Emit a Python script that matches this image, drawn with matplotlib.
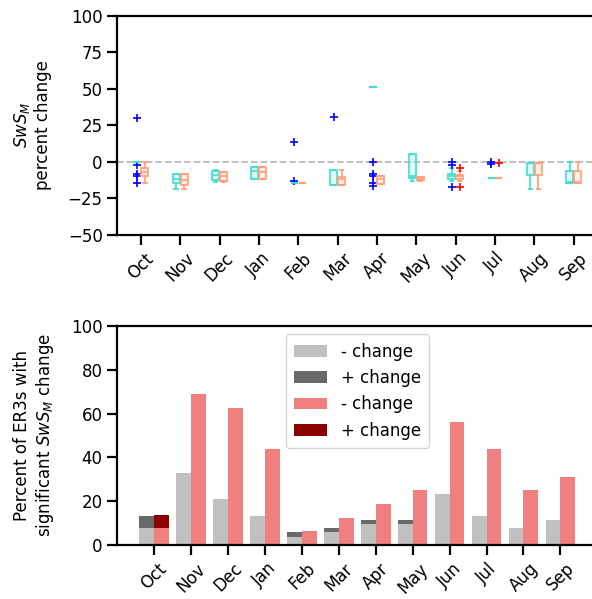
import matplotlib
matplotlib.use("Agg")
import matplotlib.pyplot as plt
from matplotlib.colors import to_rgba
import numpy as np

months = ['Oct', 'Nov', 'Dec', 'Jan', 'Feb', 'Mar', 'Apr', 'May', 'Jun', 'Jul', 'Aug', 'Sep']

# box stats, turquoise series
t_q1 = [-0.3, -14.5, -12.7, -11.8, -14.8, -15.7, 51.0, -11.1, -11.8, -11.1, -9.3, -14.6]
t_med = [-0.3, -12.0, -9.3, -6.6, -14.8, -15.7, 51.0, -10.0, -10.0, -11.1, -1.2, -13.8]
t_q3 = [-0.3, -8.2, -6.6, -3.9, -14.8, -5.9, 51.0, 5.5, -8.2, -11.1, -0.7, -6.6]
t_lo = [-0.3, -18.6, -13.9, -11.8, -14.8, -15.7, 51.0, -13.4, -13.4, -11.1, -18.4, -14.6]
t_hi = [-0.3, -8.2, -6.0, -3.9, -14.8, -5.9, 51.0, 5.5, -4.3, -11.1, -0.7, -0.3]
t_fliers = [[30, -2.5, -8.5, -9.8, -14.5], [], [], [], [13.5, -13.5], [30.3],
            [0, -8.5, -9.5, -14.5, -16.8], [], [0, -2.5, -17.3], [-0.3, -1.5], [], []]

# box stats, salmon series
s_q1 = [-9.6, -15.7, -13.2, -11.8, -14.8, -15.7, -15.0, -12.7, -11.8, -11.1, -9.3, -14.6]
s_med = [-7.0, -12.3, -10.0, -7.0, -14.8, -12.0, -12.0, -11.5, -10.0, -11.1, -1.2, -13.8]
s_q3 = [-4.3, -8.2, -7.0, -3.9, -14.8, -10.5, -9.6, -10.7, -8.9, -11.1, -0.7, -6.6]
s_lo = [-14.5, -18.6, -14.1, -11.8, -14.8, -15.7, -15.0, -13.4, -13.4, -11.1, -18.4, -14.6]
s_hi = [-0.5, -8.2, -7.0, -3.9, -14.8, -5.9, -9.6, -10.7, -6.5, -11.1, -0.7, -0.3]
s_fliers = [[], [], [], [], [], [], [], [], [-4.3, -17.3], [-0.8], [], []]

# percent of ER3s with significant change
gray_neg = [7.69, 32.7, 21.15, 13.46, 3.85, 5.77, 9.6, 9.6, 23.08, 13.46, 7.69, 11.54]
gray_pos = [5.77, 0, 0, 0, 1.92, 1.92, 1.92, 1.92, 0, 0, 0, 0]
red_neg = [7.7, 68.75, 62.5, 43.75, 6.25, 12.5, 18.75, 25.0, 56.25, 43.75, 25.0, 31.25]
red_pos = [6.2, 0, 0, 0, 0, 0, 0, 0, 0, 0, 0, 0]

plt.rcParams['font.family'] = 'DejaVu Sans'
plt.rcParams['font.size'] = 12

fig = plt.figure(figsize=(5.92, 5.99), dpi=100)
ax1 = fig.add_axes([0.198, 0.608, 0.811, 0.366])
ax2 = fig.add_axes([0.198, 0.090, 0.811, 0.366])

x = np.arange(len(months))


def make_stats(q1, med, q3, lo, hi, fl):
    return [dict(q1=a, med=b, q3=c, whislo=d, whishi=e, fliers=f)
            for a, b, c, d, e, f in zip(q1, med, q3, lo, hi, fl)]


def draw_boxes(ax, stats, pos, col, fcol):
    lw = 1.5
    ax.bxp(stats, positions=pos, widths=0.18, patch_artist=True,
           boxprops=dict(facecolor=to_rgba(col, 0.15), edgecolor=to_rgba(col, 0.85), linewidth=lw),
           medianprops=dict(color=to_rgba(col, 0.85), linewidth=lw),
           whiskerprops=dict(color=to_rgba(col, 0.85), linewidth=lw),
           capprops=dict(color=to_rgba(col, 0.85), linewidth=lw),
           flierprops=dict(marker='+', markeredgecolor=fcol, markersize=6, markeredgewidth=1.2),
           capwidths=0.09, manage_ticks=False)


ax1.axhline(0, color='#bbbbbb', linestyle='--', linewidth=1.3, zorder=0)
draw_boxes(ax1, make_stats(t_q1, t_med, t_q3, t_lo, t_hi, t_fliers), x - 0.1, '#40E0D0', 'blue')
draw_boxes(ax1, make_stats(s_q1, s_med, s_q3, s_lo, s_hi, s_fliers), x + 0.1, '#FFA07A', 'red')
ax1.set_xlim(-0.6, 11.6)
ax1.set_ylim(-50, 100)
ax1.set_yticks([-50, -25, 0, 25, 50, 75, 100])
ax1.set_xticks(x)
ax1.set_xticklabels(months, rotation=45)
ax1.set_ylabel('$SwS_M$\npercent change', labelpad=11)

bw = 0.4
ax2.bar(x - 0.2, gray_neg, bw, color='silver', label='- change')
ax2.bar(x - 0.2, gray_pos, bw, bottom=gray_neg, color='dimgray', label='+ change')
ax2.bar(x + 0.2, red_neg, bw, color='lightcoral', label='- change')
ax2.bar(x + 0.2, red_pos, bw, bottom=red_neg, color='darkred', label='+ change')
ax2.set_xlim(-1, 12)
ax2.set_ylim(0, 100)
ax2.set_xticks(x)
ax2.set_xticklabels(months, rotation=45)
ax2.set_ylabel('Percent of ER3s with\nsignificant $SwS_M$ change', labelpad=11)
ax2.legend(loc='upper center', handlelength=2.0, borderpad=0.5, labelspacing=0.5)

for ax in (ax1, ax2):
    for s in ax.spines.values():
        s.set_linewidth(1.6)
    ax.tick_params(width=1.6, length=7)

fig.savefig('out.png', dpi=100)
